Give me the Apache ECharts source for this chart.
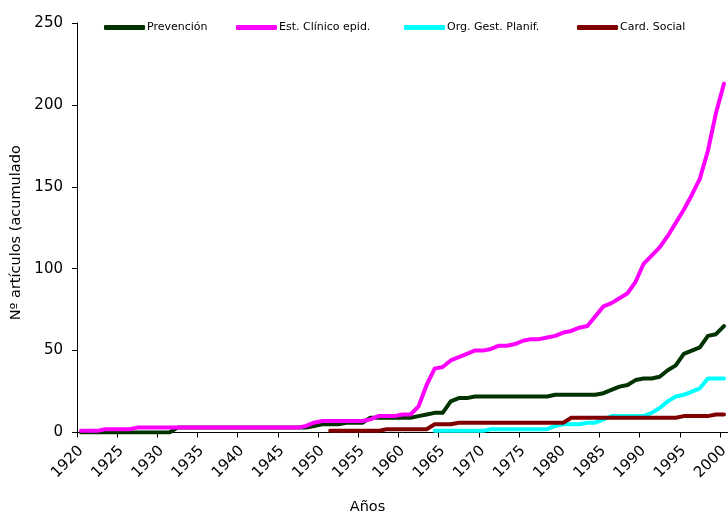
<!DOCTYPE html>
<html>
<head>
<meta charset="utf-8">
<script src="https://cdn.jsdelivr.net/npm/echarts@6/dist/echarts.min.js"></script>
<style>
html,body{margin:0;padding:0;background:#fff;}
#chart{width:728px;height:516px;}
</style>
</head>
<body>
<div id="chart"></div>
<script>
var years = ['1920','1921','1922','1923','1924','1925','1926','1927','1928','1929',
'1930','1931','1932','1933','1934','1935','1936','1937','1938','1939',
'1940','1941','1942','1943','1944','1945','1946','1947','1948','1949',
'1950','1951','1952','1953','1954','1955','1956','1957','1958','1959',
'1960','1961','1962','1963','1964','1965','1966','1967','1968','1969',
'1970','1971','1972','1973','1974','1975','1976','1977','1978','1979',
'1980','1981','1982','1983','1984','1985','1986','1987','1988','1989',
'1990','1991','1992','1993','1994','1995','1996','1997','1998','1999','2000'];

var seriesNames = ['Prevención','Est. Clínico epid.','Org. Gest. Planif.','Card. Social'];

// 1920..2000
var prevencion = [0,0,0,0,0,0,0,0,0,0,
0,0,3,3,3,3,3,3,3,3,
3,3,3,3,3,3,3,3,3,4,
5,5,5,6,6,6,9,9,9,9,
9,9,10,11,12,12,19,21,21,22,
22,22,22,22,22,22,22,22,22,23,
23,23,23,23,23,24,26,28,29,32,
33,33,34,38,41,48,50,52,59,60,65];

var estClinico = [1,1,1,2,2,2,2,3,3,3,
3,3,3,3,3,3,3,3,3,3,
3,3,3,3,3,3,3,3,4,6,
7,7,7,7,7,7,8,10,10,10,
11,11,16,29,39,40,44,46,48,50,
50,51,53,53,54,56,57,57,58,59,
61,62,64,65,71,77,79,82,85,92,
103,108,113,120,128,136,145,155,172,195,213];

var orgGest = [null,null,null,null,null,null,null,null,null,null,
null,null,null,null,null,null,null,null,null,null,
null,null,null,null,null,null,null,null,null,null,
null,null,null,null,null,null,null,null,null,null,
null,null,null,null,1,1,1,1,1,1,
1,2,2,2,2,2,2,2,2,4,
5,5,5,6,6,8,10,10,10,10,
10,12,15,19,22,23,25,27,33,33,33];

var cardSocial = [null,null,null,null,null,null,null,null,null,null,
null,null,null,null,null,null,null,null,null,null,
null,null,null,null,null,null,null,null,null,null,
null,1,1,1,1,1,1,1,2,2,
2,2,2,2,5,5,5,6,6,6,
6,6,6,6,6,6,6,6,6,6,
6,9,9,9,9,9,9,9,9,9,
9,9,9,9,9,10,10,10,10,11,11];

var colors = ['#003300','#ff00ff','#00ffff','#800000'];
var dataSets = [prevencion, estClinico, orgGest, cardSocial];
var legendLeft = [99, 231, 399, 572];

var FONT = 'DejaVu Sans';
var chart = echarts.init(document.getElementById('chart'), null, {renderer:'canvas'});

var series = seriesNames.map(function(n, i){
  return {
    name: n,
    type: 'line',
    data: dataSets[i],
    symbol: 'none',
    showSymbol: false,
    connectNulls: false,
    animation: false,
    lineStyle: {color: colors[i], width: 4, cap: 'round', join: 'round'},
    itemStyle: {color: colors[i]}
  };
});

var legends = seriesNames.map(function(n, i){
  return {
    top: 17, left: legendLeft[i],
    icon: 'roundRect',
    itemWidth: 41, itemHeight: 5,
    textStyle: {fontFamily: FONT, fontSize: 11, color: '#000', padding: [0,0,0,-3]},
    data: [n]
  };
});

chart.setOption({
  animation: false,
  backgroundColor: '#fff',
  grid: {left: 77, right: 0, top: 23, bottom: 83.5, containLabel: false, outerBoundsMode: 'none'},
  legend: legends,
  xAxis: {
    type: 'category',
    data: years,
    boundaryGap: true,
    name: 'Años',
    nameLocation: 'middle',
    nameGap: 67,
    nameTextStyle: {fontFamily: FONT, fontSize: 14.5, color: '#000', padding: [0, 70, 0, 0]},
    axisLine: {show: true, lineStyle: {color: '#000', width: 1}},
    axisTick: {show: true, interval: 4, length: 5, inside: false, lineStyle: {color: '#000'}},
    axisLabel: {interval: 4, rotate: 45, fontFamily: FONT, fontSize: 15, color: '#000', margin: 16},
    splitLine: {show: false}
  },
  yAxis: {
    type: 'value',
    min: 0, max: 250, interval: 50,
    name: 'Nº artículos (acumulado',
    nameLocation: 'middle',
    nameGap: 51,
    nameTextStyle: {fontFamily: FONT, fontSize: 14.5, color: '#000', padding: [0, 10, 0, 0]},
    axisLine: {show: true, lineStyle: {color: '#000', width: 1}},
    axisTick: {show: true, length: 5, lineStyle: {color: '#000'}},
    axisLabel: {fontFamily: FONT, fontSize: 15, color: '#000', margin: 14},
    splitLine: {show: false}
  },
  series: series
});
</script>
</body>
</html>
